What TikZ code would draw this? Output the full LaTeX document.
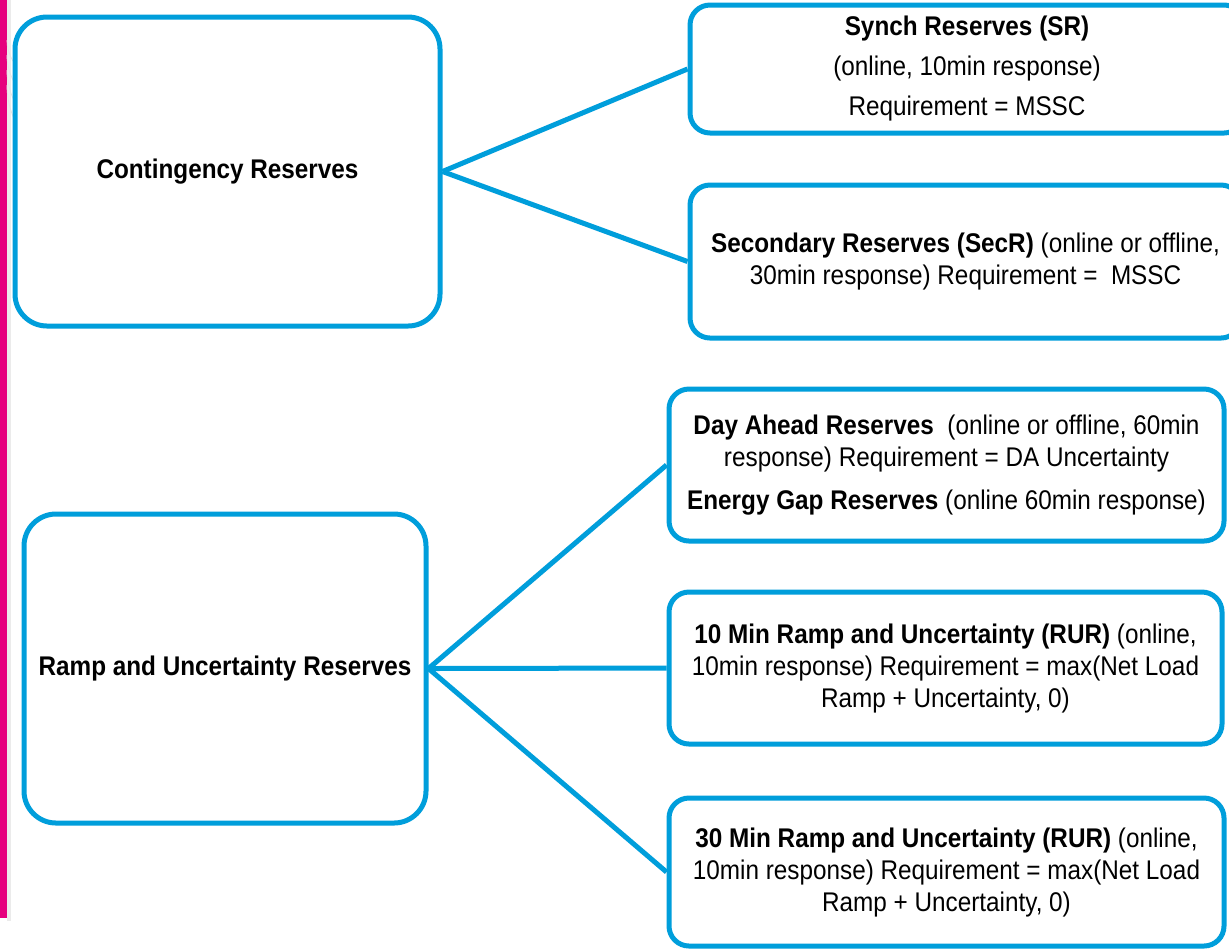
\documentclass[tikz,border=0pt]{standalone}
\usepackage{fontspec}
\setmainfont{Liberation Sans}[FakeStretch=0.9]
\definecolor{boxblue}{RGB}{0,158,219}
\definecolor{barpink}{RGB}{230,0,126}
\tikzset{
  rbox/.style={draw=boxblue, line width=2.5pt, rounded corners=10pt, fill=white,
    inner sep=0pt, align=center, text=black,
    font=\fontsize{13.5}{16}\selectfont},
  bigbox/.style={rbox, rounded corners=16pt},
  link/.style={draw=boxblue, line width=2.5pt}
}
\begin{document}
\begin{tikzpicture}[x=0.5pt,y=-0.5pt]
\useasboundingbox (0,0) rectangle (1229,950);
\fill[white] (0,0) rectangle (1229,950);
\clip (0,0) rectangle (1229,950);
% pink side bar with faint shadow
\fill[black!8] (7,0) rectangle (11,921);
\fill[barpink] (0,0) rectangle (7,918);
% faint background arcs
\foreach \r in {40,55,70,85}
  \draw[black!10, line width=0.4pt] (7,\r) arc[start angle=180, end angle=120, radius=\r];
% connectors (drawn first, boxes on top)
\coordinate (ce) at (440,171.5);
\coordinate (re) at (426,668.5);
% left boxes
\node[bigbox, minimum width=212.5pt, minimum height=154.5pt] (cont) at (227.5,171.5)
  {\bfseries Contingency Reserves};
\node[bigbox, minimum width=201pt, minimum height=154.5pt] (ramp) at (225,668.5)
  {\bfseries Ramp and Uncertainty Reserves};
% right boxes
\node[rbox, minimum width=277pt, minimum height=64pt] (sr) at (967,69)
  {\bfseries Synch Reserves (SR)\\[4pt](online, 10min response)\\[4pt]Requirement = MSSC};
\node[rbox, minimum width=275.5pt, minimum height=76.5pt] (secr) at (965.5,261.5)
  {\textbf{Secondary Reserves (SecR)} (online or offline,\\30min response) Requirement = \ MSSC};
\node[rbox, minimum width=277.5pt, minimum height=76pt] (da) at (946.5,465)
  {\textbf{Day Ahead Reserves} \ (online or offline, 60min\\response) Requirement = DA Uncertainty\\[5.5pt]\textbf{Energy Gap Reserves} (online 60min response)};
\node[rbox, minimum width=276.5pt, minimum height=76pt] (ten) at (945.5,668)
  {\textbf{10 Min Ramp and Uncertainty (RUR)} (online,\\10min response) Requirement = max(Net Load\\Ramp + Uncertainty, 0)};
\node[rbox, minimum width=277.5pt, minimum height=74pt] (thirty) at (946.5,872)
  {\textbf{30 Min Ramp and Uncertainty (RUR)} (online,\\10min response) Requirement = max(Net Load\\Ramp + Uncertainty, 0)};
% connectors
\draw[link] (cont.east) -- (sr.west);
\draw[link] (cont.east) -- (secr.west);
\draw[link] (ramp.east) -- (da.west);
\draw[link] (ramp.east) -- (ten.west);
\draw[link] (ramp.east) -- (thirty.west);
\end{tikzpicture}
\end{document}
